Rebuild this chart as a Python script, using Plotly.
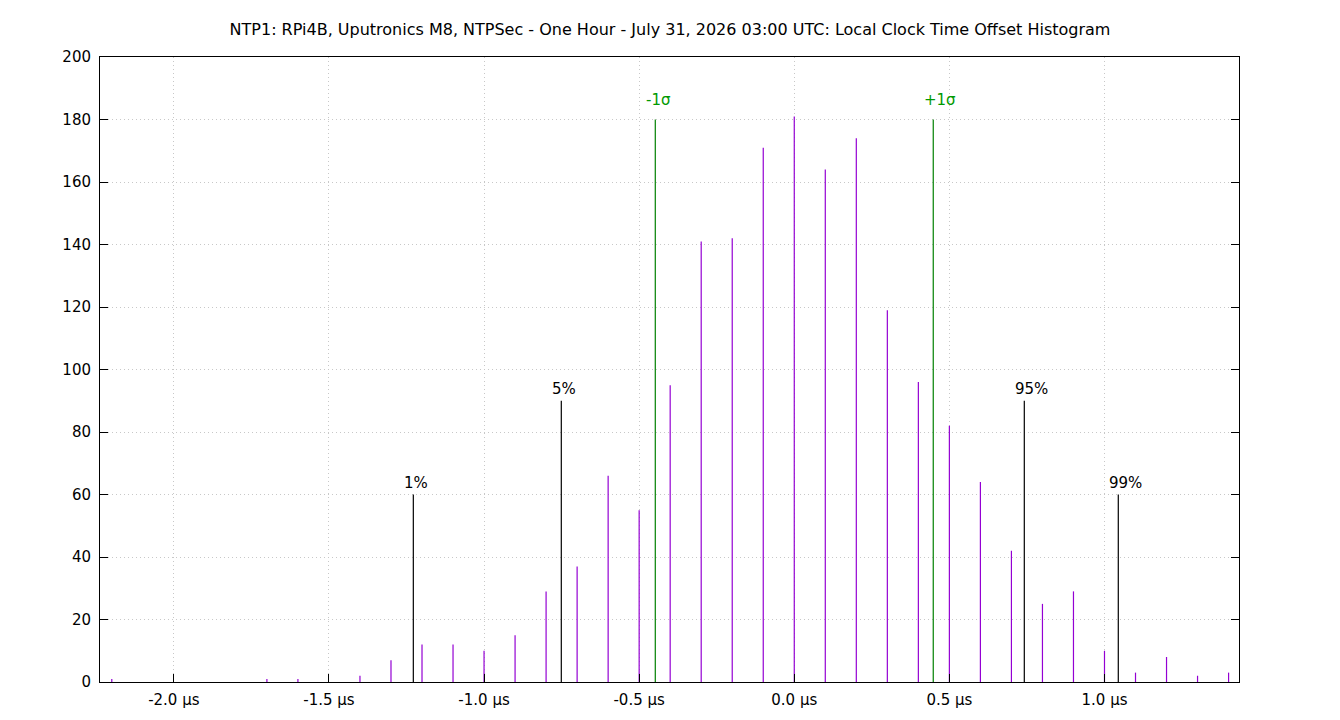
import plotly.graph_objects as go

# Histogram bins (µs) and counts
bin_x = [-2.2, -1.7, -1.6, -1.4, -1.3, -1.2, -1.1, -1.0, -0.9, -0.8, -0.7, -0.6,
         -0.5, -0.4, -0.3, -0.2, -0.1, 0.0, 0.1, 0.2, 0.3, 0.4, 0.5, 0.6, 0.7,
         0.8, 0.9, 1.0, 1.1, 1.2, 1.3, 1.4]
bin_count = [1, 1, 1, 2, 7, 12, 12, 10, 15, 29, 37, 66,
             55, 95, 141, 142, 171, 181, 164, 174, 119, 96, 82, 64, 42,
             25, 29, 10, 3, 8, 2, 3]

# Percentile markers
pct_labels = ["1%", "5%", "95%", "99%"]
pct_x = [-1.228, -0.751, 0.7415, 1.0445]
pct_h = [60, 90, 90, 60]

# Sigma markers
sig_labels = ["-1σ", "+1σ"]
sig_x = [-0.448, 0.448]
sig_h = [180, 180]

x_tickvals = [-2.0, -1.5, -1.0, -0.5, 0.0, 0.5, 1.0]
x_ticktext = ["-2.0 µs", "-1.5 µs", "-1.0 µs", "-0.5 µs", "0.0 µs", "0.5 µs", "1.0 µs"]
y_tickvals = list(range(0, 201, 20))

title = ("NTP1: RPi4B, Uputronics M8, NTPSec - One Hour - July 31, 2026 03:00 UTC: "
         "Local Clock Time Offset Histogram")


def stems(xs, hs):
    X, Y = [], []
    for x, h in zip(xs, hs):
        X += [x, x, None]
        Y += [0, h, None]
    return X, Y


fig = go.Figure()
bx, by = stems(bin_x, bin_count)
fig.add_trace(go.Scatter(x=bx, y=by, mode="lines", line=dict(color="#9400d3", width=1.2),
                         hoverinfo="skip", showlegend=False))
px, py = stems(pct_x, pct_h)
fig.add_trace(go.Scatter(x=px, y=py, mode="lines", line=dict(color="#000000", width=1.2),
                         hoverinfo="skip", showlegend=False))
sx, sy = stems(sig_x, sig_h)
fig.add_trace(go.Scatter(x=sx, y=sy, mode="lines", line=dict(color="#008000", width=1.2),
                         hoverinfo="skip", showlegend=False))

annotations = []
for lbl, x, h in zip(pct_labels, pct_x, pct_h):
    annotations.append(dict(x=x, y=h, text=lbl, showarrow=False, xanchor="left",
                            yanchor="bottom", yshift=1, xshift=-11,
                            font=dict(family="DejaVu Sans", size=15, color="#000000")))
for lbl, x, h in zip(sig_labels, sig_x, sig_h):
    annotations.append(dict(x=x, y=h, text=lbl, showarrow=False, xanchor="left",
                            yanchor="bottom", yshift=9, xshift=-11,
                            font=dict(family="DejaVu Sans", size=15, color="#009900")))

fig.update_layout(
    width=1340, height=720,
    margin=dict(l=100, r=101, t=57, b=38, autoexpand=False),
    paper_bgcolor="white", plot_bgcolor="white",
    title=dict(text=title, x=0.5, xanchor="center", y=1 - 29 / 720, yanchor="middle",
               font=dict(family="DejaVu Sans", size=16, color="#000000")),
    font=dict(family="DejaVu Sans", size=15, color="#000000"),
    annotations=annotations,
    showlegend=False,
)
fig.update_xaxes(range=[-2.238, 1.4336], tickvals=x_tickvals, ticktext=x_ticktext,
                 showgrid=True, gridcolor="#c8c8c8", griddash="1px,3px", gridwidth=1,
                 zeroline=False, showline=True, linecolor="#000000", linewidth=1,
                 mirror=True, ticks="inside", ticklen=8, tickcolor="#000000",
                 ticklabelstandoff=4, automargin=False,
                 tickfont=dict(family="DejaVu Sans", size=15))
fig.update_yaxes(range=[0, 200], tickvals=y_tickvals,
                 showgrid=True, gridcolor="#c8c8c8", griddash="1px,3px", gridwidth=1,
                 zeroline=False, showline=True, linecolor="#000000", linewidth=1,
                 mirror="ticks", ticks="inside", ticklen=8, tickcolor="#000000",
                 ticklabelstandoff=5, automargin=False,
                 tickfont=dict(family="DejaVu Sans", size=15))

fig.write_html("out.html")
